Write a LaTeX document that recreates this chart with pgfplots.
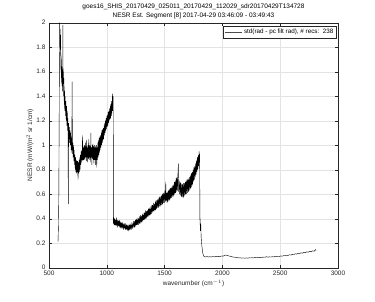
\documentclass[border=0pt]{standalone}
\usepackage{fontspec}
\setmainfont{Liberation Sans}
\usepackage{pgfplots}
\pgfplotsset{compat=1.18}
\definecolor{axgray}{gray}{0.15}
\begin{document}
\begin{tikzpicture}
\useasboundingbox (0,0) rectangle (375pt,301pt);
\begin{axis}[
  at={(49pt,33.3pt)}, anchor=south west,
  scale only axis, width=289pt, height=245pt,
  xmin=500, xmax=3000, ymin=0, ymax=2,
  xtick={500,1000,...,3000}, ytick={0,0.2,...,2.0},
  yticklabels={0,0.2,0.4,0.6,0.8,1,1.2,1.4,1.6,1.8,2},
  /pgf/number format/assume math mode=true,
  /pgf/number format/1000 sep={},
  scaled x ticks=false,
  tick label style={font=\fontsize{6.5}{8}\selectfont, text=axgray},
  label style={font=\fontsize{6.5}{8}\selectfont, text=axgray},
  grid=major, major grid style={gray!22, line width=0.4pt},
  axis line style={axgray, line width=0.4pt},
  tick style={axgray, line width=0.4pt}, major tick length=2.8pt,
  xlabel={wavenumber (cm$^{-1}$)},
  ylabel={NESR (mW/(m$^2$ sr 1/cm)},
  xlabel style={yshift=3pt},
  ylabel style={yshift=-4pt},
  title={goes16\_SHIS\_20170429\_025011\_20170429\_112029\_sdr20170429T134728\\NESR Est. Segment [8] 2017-04-29 03:46:09 - 03:49:43},
  title style={font=\fontsize{6.5}{9}\selectfont, align=center, text=black, yshift=-6pt},
  legend style={at={(rel axis cs:0.995,0.986)}, anchor=north east,
    font=\fontsize{6.3}{7}\selectfont, draw=axgray, line width=0.4pt,
    inner sep=1pt, row sep=0pt, text=black},
  legend cell align=left,
  legend image post style={line width=0.3pt, black!70},
]
\addplot[black, line width=0.4pt] coordinates {
(578,0.21)(582,0.35)(585,0.60)(588,1.20)(590,1.70)(592,2.00)(594,1.80)(596,1.95)(598,1.78)(600,1.90)
(602,1.62)(604,1.75)(606,1.55)(608,1.70)(610,1.50)(612,1.64)(614,1.48)(616,1.62)(618,1.44)(620,1.98)
(622,1.52)(624,1.60)(626,1.40)(628,1.55)(630,1.36)(632,1.48)(634,1.30)(636,1.44)(638,1.28)(640,1.40)
(643,1.24)(646,1.36)(649,1.20)(652,1.32)(655,1.16)(658,1.28)(661,1.12)(664,1.22)(667,0.52)(670,1.18)
(673,1.05)(676,1.15)(679,1.02)(682,1.12)(685,1.00)(688,1.10)(691,0.96)(694,1.06)(697,0.94)(700,1.52)
(703,0.93)(706,1.02)(709,0.90)(712,1.00)(715,0.87)(718,0.96)(721,0.84)(724,0.92)(727,0.80)(730,0.90)
(733,0.78)(736,0.88)(739,0.77)(742,0.87)(745,0.78)(748,0.87)(751,0.72)(754,0.86)(757,0.77)(760,0.88)
(763,0.78)(766,0.90)(769,0.80)(772,0.92)(775,0.84)(778,0.95)(781,0.86)(784,0.96)(787,0.88)(790,1.08)
(793,0.87)(796,0.98)(799,0.88)(802,0.99)(805,0.89)(808,1.00)(811,0.88)(814,1.02)(817,0.90)(820,0.99)
(823,0.87)(826,1.04)(829,0.90)(832,0.98)(835,0.86)(838,1.00)(841,0.89)(844,1.05)(847,0.88)(850,1.00)
(853,0.90)(856,0.99)(859,0.86)(862,1.10)(865,0.90)(868,0.98)(871,0.84)(874,1.00)(877,0.89)(880,1.01)
(883,0.88)(886,0.99)(889,0.85)(892,1.00)(895,0.88)(898,0.98)(901,0.84)(904,0.99)(907,0.88)(910,1.00)
(913,0.82)(916,0.98)(919,0.88)(922,1.02)(925,0.90)(928,1.04)(931,0.92)(934,1.06)(937,0.94)(940,1.07)
(943,0.96)(946,1.08)(949,0.98)(952,1.10)(955,1.00)(958,1.12)(961,1.02)(964,1.13)(967,1.04)(970,1.14)
(973,1.05)(976,1.16)(979,1.08)(982,1.18)(985,1.10)(988,1.20)(991,1.12)(994,1.22)(997,1.13)(1000,1.24)
(1003,1.15)(1006,1.25)(1009,1.16)(1012,1.27)(1015,1.18)(1018,1.28)(1021,1.20)(1024,1.30)(1027,1.21)(1030,1.32)
(1033,1.22)(1036,1.34)(1039,1.24)(1042,1.36)(1045,1.26)(1048,1.42)(1051,1.28)(1054,1.40)(1056,1.30)
(1057,0.36)(1060,0.41)(1064,0.35)(1068,0.40)(1071,0.34)(1075,0.39)(1079,0.35)(1082,0.41)(1086,0.34)(1090,0.39)
(1094,0.33)(1097,0.39)(1101,0.34)(1105,0.38)(1108,0.33)(1112,0.39)(1116,0.34)(1120,0.37)(1123,0.32)(1127,0.37)
(1131,0.33)(1135,0.37)(1138,0.32)(1142,0.36)(1146,0.31)(1150,0.36)(1153,0.32)(1157,0.35)(1161,0.31)(1165,0.36)
(1168,0.31)(1172,0.35)(1176,0.31)(1180,0.35)(1183,0.30)(1187,0.34)(1191,0.31)(1195,0.35)(1198,0.31)(1202,0.36)
(1206,0.32)(1210,0.35)(1213,0.31)(1217,0.37)(1221,0.32)(1225,0.36)(1228,0.33)(1232,0.38)(1236,0.33)(1240,0.38)
(1243,0.33)(1247,0.39)(1251,0.34)(1255,0.40)(1258,0.35)(1262,0.39)(1266,0.35)(1270,0.41)(1273,0.35)(1277,0.40)
(1281,0.36)(1285,0.42)(1288,0.36)(1292,0.43)(1296,0.37)(1300,0.42)(1303,0.37)(1307,0.44)(1311,0.38)(1315,0.43)
(1318,0.39)(1322,0.45)(1326,0.39)(1330,0.45)(1333,0.40)(1337,0.47)(1341,0.40)(1345,0.46)(1348,0.41)(1352,0.47)
(1356,0.42)(1360,0.48)(1363,0.42)(1367,0.49)(1371,0.43)(1375,0.48)(1378,0.43)(1382,0.50)(1386,0.44)(1390,0.51)
(1393,0.45)(1397,0.51)(1401,0.46)(1405,0.53)(1408,0.46)(1412,0.52)(1416,0.47)(1420,0.54)(1423,0.47)(1427,0.55)
(1431,0.48)(1435,0.55)(1438,0.49)(1442,0.56)(1446,0.49)(1450,0.57)(1453,0.50)(1457,0.58)(1461,0.50)(1465,0.58)
(1468,0.51)(1472,0.59)(1476,0.51)(1480,0.60)(1483,0.52)(1487,0.61)(1491,0.53)(1495,0.61)(1498,0.53)(1502,0.63)
(1506,0.54)(1510,0.70)(1513,0.55)(1517,0.61)(1521,0.53)(1525,0.62)(1528,0.54)(1532,0.63)(1536,0.55)(1540,0.64)
(1543,0.55)(1547,0.65)(1551,0.56)(1555,0.65)(1558,0.57)(1562,0.66)(1566,0.58)(1570,0.67)(1573,0.58)(1577,0.68)
(1581,0.59)(1585,0.70)(1588,0.60)(1592,0.71)(1596,0.61)(1600,0.73)(1603,0.62)(1607,0.74)(1611,0.63)(1615,0.76)
(1619,0.85)(1622,0.62)(1626,0.71)(1630,0.60)(1634,0.70)(1637,0.59)(1641,0.69)(1645,0.58)(1649,0.68)(1652,0.58)
(1656,0.68)(1660,0.57)(1664,0.69)(1667,0.58)(1671,0.69)(1675,0.59)(1679,0.70)(1682,0.60)(1686,0.71)(1690,0.60)
(1694,0.72)(1697,0.61)(1701,0.72)(1705,0.62)(1709,0.73)(1712,0.63)(1716,0.74)(1720,0.64)(1724,0.76)(1727,0.65)
(1731,0.77)(1735,0.66)(1739,0.78)(1742,0.68)(1746,0.80)(1750,0.70)(1754,0.82)(1757,0.72)(1761,0.83)(1765,0.74)
(1769,0.85)(1772,0.76)(1776,0.88)(1780,0.78)(1784,0.90)(1787,0.80)(1791,0.92)(1795,0.83)(1798,0.95)(1801,0.86)
(1803,0.93)(1806,0.35)(1808,0.40)(1810,0.30)(1813,0.36)(1816,0.25)(1822,0.18)(1830,0.12)(1838,0.095)
(1842,0.092)(1855,0.088)(1868,0.091)(1880,0.087)(1893,0.090)(1905,0.087)(1918,0.091)(1930,0.088)(1943,0.092)(1955,0.089)
(1968,0.093)(1980,0.091)(1993,0.096)(2005,0.094)(2018,0.100)(2030,0.104)(2043,0.099)(2055,0.097)(2068,0.092)(2080,0.090)
(2093,0.087)(2105,0.086)(2118,0.083)(2130,0.082)(2143,0.080)(2155,0.081)(2168,0.078)(2180,0.080)(2193,0.077)(2205,0.080)
(2218,0.078)(2230,0.081)(2243,0.079)(2255,0.082)(2268,0.080)(2280,0.083)(2293,0.081)(2305,0.084)(2318,0.082)(2330,0.085)
(2343,0.083)(2355,0.087)(2368,0.085)(2380,0.090)(2393,0.086)(2405,0.089)(2418,0.087)(2430,0.090)(2443,0.088)(2455,0.092)
(2468,0.090)(2480,0.094)(2493,0.092)(2505,0.096)(2518,0.094)(2530,0.099)(2543,0.097)(2555,0.102)(2568,0.100)(2580,0.106)
(2593,0.103)(2605,0.109)(2618,0.107)(2630,0.114)(2643,0.111)(2655,0.118)(2668,0.115)(2680,0.122)(2693,0.118)(2705,0.126)
(2718,0.122)(2730,0.130)(2743,0.126)(2755,0.134)(2768,0.130)(2780,0.138)(2793,0.134)(2805,0.148)(2810,0.140)
};
\addlegendentry{std(rad - pc filt rad), \# recs:\ \ 238}
\end{axis}
\end{tikzpicture}
\end{document}
